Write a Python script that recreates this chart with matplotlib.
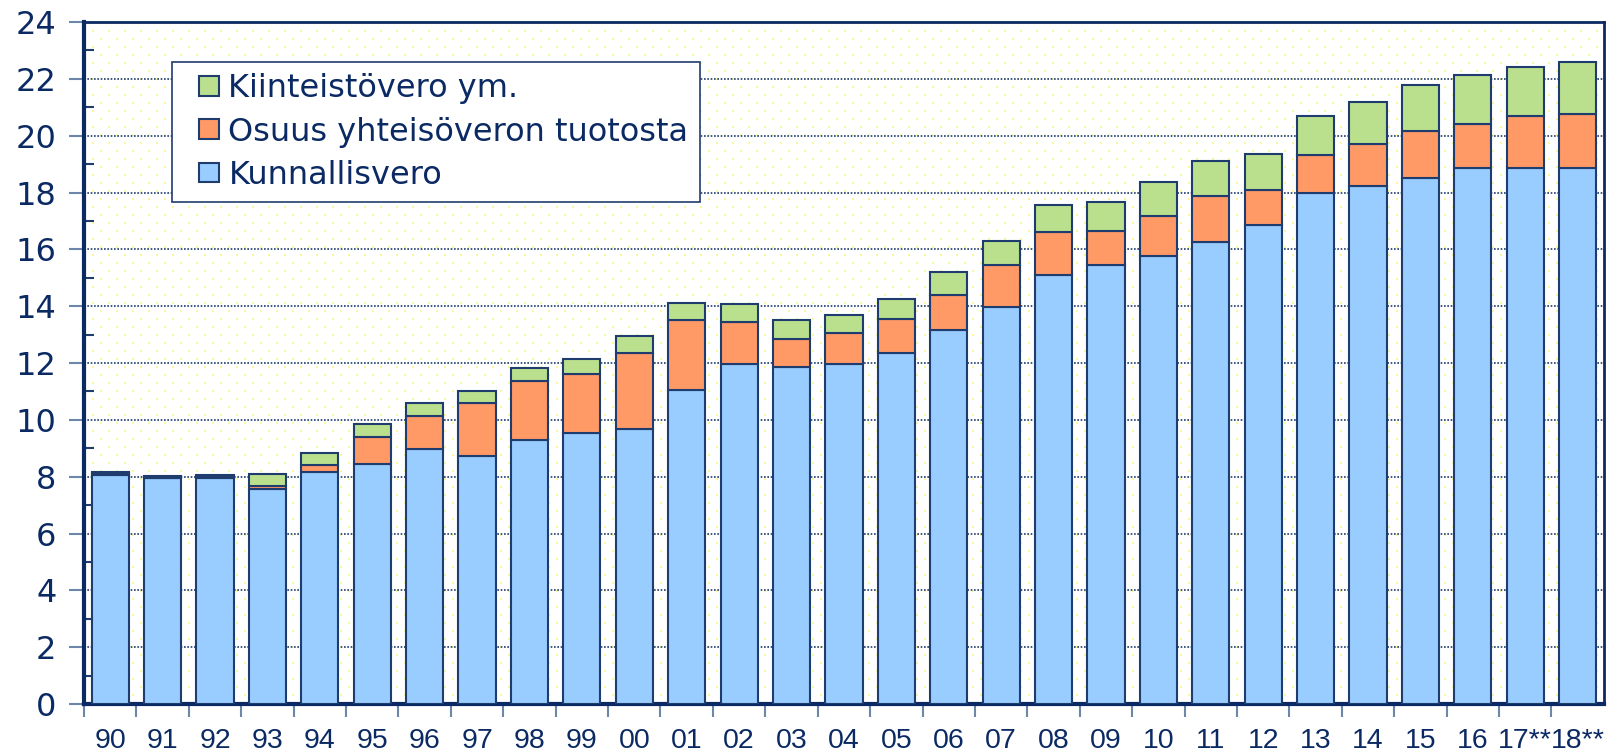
import matplotlib
matplotlib.use("Agg")
import matplotlib.pyplot as plt
import numpy as np
from matplotlib import font_manager
from matplotlib.patches import Patch, Rectangle
from matplotlib.legend_handler import HandlerPatch

# vuodet
years = ["90", "91", "92", "93", "94", "95", "96", "97", "98", "99", "00", "01", "02", "03", "04",
         "05", "06", "07", "08", "09", "10", "11", "12", "13", "14", "15", "16", "17**", "18**"]

# mrd euroa, luettu kuvasta
kunnallisvero = [8.07, 7.96, 7.96, 7.57, 8.18, 8.43, 8.97, 8.72, 9.30, 9.55, 9.69, 11.06, 11.96, 11.86, 11.96,
                 12.36, 13.15, 13.98, 15.10, 15.46, 15.78, 16.25, 16.86, 17.98, 18.23, 18.52, 18.88, 18.85, 18.88]
yhteisovero = [0.02, 0.00, 0.04, 0.11, 0.22, 0.97, 1.16, 1.88, 2.05, 2.05, 2.67, 2.45, 1.48, 1.00, 1.09,
               1.19, 1.23, 1.48, 1.51, 1.19, 1.41, 1.62, 1.23, 1.34, 1.48, 1.66, 1.55, 1.83, 1.88]
kiinteistovero = [0.09, 0.08, 0.07, 0.42, 0.43, 0.44, 0.47, 0.43, 0.47, 0.54, 0.58, 0.62, 0.65, 0.65, 0.64,
                  0.72, 0.83, 0.83, 0.94, 1.01, 1.19, 1.23, 1.26, 1.36, 1.48, 1.59, 1.70, 1.73, 1.83]

labels = ["Kunnallisvero", "Osuus yhteisöveron tuotosta", "Kiinteistövero ym."]
colors = ["#99ccff", "#ff9966", "#bbe08d"]

navy = "#0b2a63"
edge = "#1f3c6e"

# kapea fontti x-akselille jos loytyy
names = {f.name for f in font_manager.fontManager.ttflist}
if "Liberation Sans Narrow" in names:
    xfont, xsize = "Liberation Sans Narrow", 22
else:
    xfont, xsize = "Liberation Sans", 20.5

fig = plt.figure(figsize=(16.07, 7.56), dpi=100)
ax = fig.add_axes([0.0523, 0.0688, 0.9457, 0.902])

x = np.arange(len(years))
k = np.array(kunnallisvero)
y = np.array(yhteisovero)
kv = np.array(kiinteistovero)

# taustan pisterasteri (vaaleankeltaiset pisteet)
H, W = 682, 1520
bg = np.ones((H, W, 3))
for r in range(0, H, 8):
    start = 8 if (r // 8) % 2 else 0
    for c in range(start, W, 16):
        bg[r:r + 2, c:c + 2] = (0.985, 0.97, 0.6)
ax.imshow(bg, extent=(0, 1, 0, 1), transform=ax.transAxes, aspect="auto",
          interpolation="nearest", zorder=0)

w = 0.71
ax.bar(x, k, w, color=colors[0], edgecolor=edge, linewidth=1.5, zorder=3)
ax.bar(x, y, w, bottom=k, color=colors[1], edgecolor=edge, linewidth=1.5, zorder=3)
ax.bar(x, kv, w, bottom=k + y, color=colors[2], edgecolor=edge, linewidth=1.5, zorder=3)

ax.set_xlim(-0.5, len(years) - 0.5)
ax.set_ylim(0, 24)
ax.set_aspect("auto")

ax.set_yticks(np.arange(0, 25, 2))
ax.set_yticks(np.arange(1, 24, 2), minor=True)
ax.tick_params(axis="y", which="major", direction="out", length=11, width=1.5, color="#6d87aa",
               labelsize=23, labelcolor=navy, pad=9)
ax.tick_params(axis="y", which="minor", direction="in", length=7, width=1.5, color=edge)

ax.set_xticks(x - 0.5, [""] * len(years))
ax.set_xticks(x, years, minor=True)
ax.tick_params(axis="x", which="major", direction="out", length=9, width=1.5, color="#6d87aa")
ax.tick_params(axis="x", which="minor", length=0, labelsize=xsize, labelcolor=navy, pad=17)
for t in ax.get_xticklabels(minor=True):
    t.set_family(xfont)

ax.yaxis.grid(True, which="major", linestyle=(0, (1, 1)), color=edge, linewidth=1.2, zorder=1)
ax.set_axisbelow(True)

for s in ["left", "bottom"]:
    ax.spines[s].set_linewidth(3)
    ax.spines[s].set_color(navy)
for s in ["top", "right"]:
    ax.spines[s].set_linewidth(2)
    ax.spines[s].set_color(navy)


# neliö selitteen kahvan oikeaan reunaan
def square(legend, orig_handle, xdescent, ydescent, width, height, fontsize):
    return Rectangle((-xdescent + width - height, -ydescent), height, height)


handles = [Patch(facecolor=c, edgecolor=edge, linewidth=1.5) for c in colors]
leg = ax.legend(handles[::-1], labels[::-1], loc="upper left", bbox_to_anchor=(0.058, 0.941),
                borderaxespad=0, fontsize=23, frameon=True, fancybox=False, framealpha=1,
                handlelength=1.1, handleheight=0.58, handletextpad=0.31, labelspacing=0.38,
                borderpad=0.35, handler_map={Patch: HandlerPatch(patch_func=square)})
leg.get_frame().set_edgecolor(edge)
leg.get_frame().set_linewidth(1.2)
for t in leg.get_texts():
    t.set_color(navy)
leg.set_zorder(5)

fig.savefig("out.png", dpi=100)
